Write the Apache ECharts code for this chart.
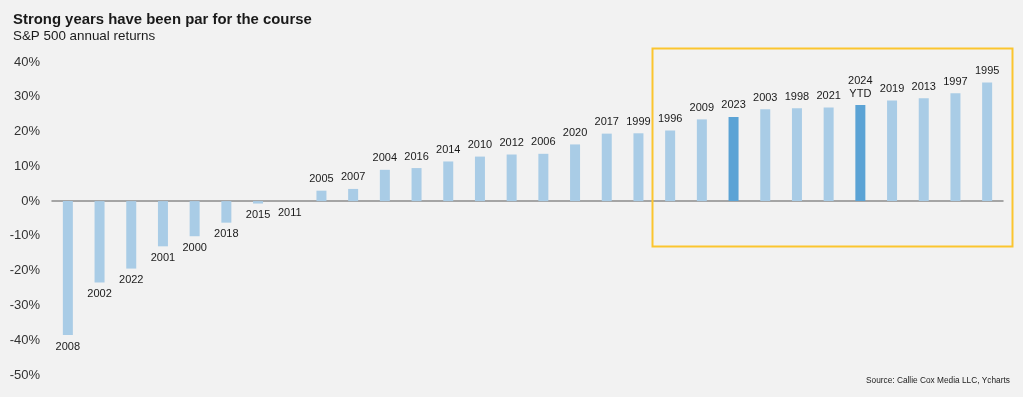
<!DOCTYPE html>
<html>
<head>
<meta charset="utf-8">
<script src="https://cdn.jsdelivr.net/npm/echarts@6/dist/echarts.min.js"></script>
<style>
html,body{margin:0;padding:0;background:#f2f2f2;}
#c{width:1023px;height:397px;}
</style>
</head>
<body>
<div id="c"></div>
<script>
const categories = ["2008","2002","2022","2001","2000","2018","2015","2011","2005","2007","2004","2016","2014","2010","2012","2006","2020","2017","1999","1996","2009","2023","2003","1998","2021","2024\nYTD","2019","2013","1997","1995"];
const returns = [-38.5,-23.4,-19.4,-13.0,-10.1,-6.2,-0.7,0.0,3.0,3.5,9.0,9.5,11.4,12.8,13.4,13.6,16.3,19.4,19.5,20.3,23.5,24.2,26.4,26.7,26.9,27.6,28.9,29.6,31.0,34.1];
const highlighted = ["2023","2024\nYTD"];
const yTicks = [-50,-40,-30,-20,-10,0,10,20,30,40];

const LIGHT = '#a9cce6', DARK = '#5ba3d5';
const font = '"Liberation Sans", Arial, sans-serif';

const data = returns.map((v, i) => ({
  value: v,
  itemStyle: { color: highlighted.includes(categories[i]) ? DARK : LIGHT },
  label: { position: v > 0 ? 'top' : 'bottom' }
}));

const chart = echarts.init(document.getElementById('c'), null, { renderer: 'canvas' });
chart.setOption({
  backgroundColor: '#f2f2f2',
  animation: false,
  title: [
    { text: 'Strong years have been par for the course', left: 8, top: 7,
      textStyle: { fontFamily: font, fontSize: 14.9, fontWeight: 'bold', color: '#1a1a1a' } },
    { text: 'S&P 500 annual returns', left: 8, top: 25,
      textStyle: { fontFamily: font, fontSize: 13.4, fontWeight: 'normal', color: '#1a1a1a' } }
  ],
  grid: { left: 52, right: 20, top: 62, bottom: 22, containLabel: false },
  xAxis: {
    type: 'category',
    data: categories,
    axisLine: { onZero: true, lineStyle: { color: '#8c8c8c', width: 1.5 } },
    axisTick: { show: false },
    axisLabel: { show: false },
    splitLine: { show: false }
  },
  yAxis: {
    type: 'value',
    min: yTicks[0], max: yTicks[yTicks.length - 1], interval: 10,
    axisLine: { show: false },
    axisTick: { show: false },
    splitLine: { show: false },
    axisLabel: { formatter: v => v + '%', margin: 12, fontFamily: font, fontSize: 13, color: '#333' }
  },
  series: [{
    type: 'bar',
    data: data,
    barWidth: 10,
    label: {
      show: true,
      formatter: p => categories[p.dataIndex],
      fontFamily: font, fontSize: 11, color: '#1a1a1a', distance: 5, lineHeight: 13
    }
  }],
  graphic: [
    { type: 'rect', shape: { x: 652.5, y: 48.5, width: 360, height: 198 },
      style: { fill: 'none', stroke: '#fbc52f', lineWidth: 2 }, z: 100 },
    { type: 'text', left: 866, top: 377,
      style: { text: 'Source: Callie Cox Media LLC, Ycharts', font: '8.3px ' + font, fill: '#222' } }
  ]
});
</script>
</body>
</html>
